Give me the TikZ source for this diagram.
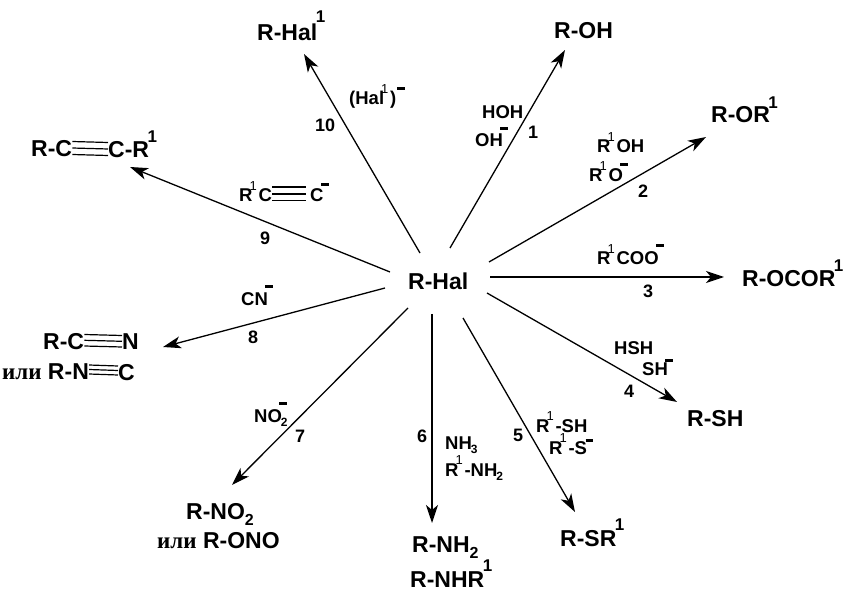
\documentclass[tikz,border=0pt]{standalone}
\usepackage{fontspec}
\setmainfont{Liberation Sans}
\newfontfamily\serifcyr{Liberation Serif}
\usetikzlibrary{arrows.meta}

% superscripts, subscripts and the charge bar
\newcommand{\bigone}[1][15.5]{\kern-1.5pt\raisebox{#1pt}[0pt][0pt]{\fontsize{17}{17}\selectfont 1}}
\newcommand{\smallone}{\kern-3pt\rlap{\raisebox{11.5pt}[0pt][0pt]{\normalfont\fontsize{13}{13}\selectfont 1}}\kern 9pt}
\newcommand{\bigsub}{\raisebox{-6pt}[0pt][0pt]{\fontsize{16}{16}\selectfont 2}}
\newcommand{\smallsub}[1]{\kern-1pt\raisebox{-4pt}[0pt][0pt]{\fontsize{12}{12}\selectfont #1}}
\newcommand{\chg}[1]{\kern-2.5pt\raisebox{#1pt}[0pt][0pt]{\rule{7.5pt}{3pt}}}

\begin{document}
\begin{tikzpicture}[x=1pt,y=-1pt,
    prod/.style={anchor=base west,inner sep=0pt,font=\fontsize{23}{23}\selectfont\bfseries},
    reag/.style={anchor=base west,inner sep=0pt,font=\fontsize{18.5}{18.5}\selectfont\bfseries},
    num/.style={anchor=base west,inner sep=0pt,font=\fontsize{18}{18}\selectfont\bfseries},
    rxn/.style={-{Stealth[length=18pt,width=12pt,inset=5pt]},line width=1.3pt},
    bond/.style={line width=1.2pt}]
  \useasboundingbox (0,0) rectangle (843,593);
  % Centre
  \node[prod] (hal) at (408,290) {R-Hal};
  % Products
  \node[prod] (oh) at (554,39) {R-OH};
  \node[prod] (or) at (711,123) {R-OR\bigone[14]};
  \node[prod] (ocor) at (742,287) {R-OCOR\bigone};
  \node[prod] (sh) at (687,426) {R-SH};
  \node[prod] (sr) at (560,546) {R-SR\bigone};
  \node[prod] (nh) at (412,552) {R-NH\bigsub};
  \node[prod] (nhr) at (410,587) {R-NHR\bigone};
  \node[prod] (no) at (186,519) {R-NO\bigsub};
  \node[prod] (ono) at (157,548) {{\serifcyr или} R-ONO};
  \node[prod] (rc) at (43,349) {R-C};
  \node[prod] (rcn) at (122,350) {N};
  \node[prod] (rn) at (2,380) {{\serifcyr или} R-N};
  \node[prod] (rnc) at (118,381) {C};
  \node[prod] (aa) at (31,157) {R-C};
  \node[prod] (ab) at (108,158) {C-R\bigone};
  \node[prod] (hh) at (257,41) {R-Hal\bigone[18]};
  % Triple bonds
  \foreach \s in {2.5,9,15.5} {
    \draw[bond] ([yshift=\s pt]aa.base east) -- ([yshift=\s pt]ab.base west);
  }
  \foreach \s in {3,8.7,14.5} {
    \draw[bond] ([yshift=\s pt]rc.base east) -- ([yshift=\s pt]rcn.base west);
  }
  \foreach \s in {6,10.5,15} {
    \draw[bond] ([yshift=\s pt]rn.base east) -- ([yshift=\s pt]rnc.base west);
  }
  % Reagents
  \node[reag] (r1a) at (482,119) {HOH};
  \node[reag] (r1b) at (475,147) {OH\chg{17}};
  \node[reag] (r2a) at (597,153) {R\smallone OH};
  \node[reag] (r2b) at (589,182) {R\smallone O\chg{16}};
  \node[reag] (r3) at (597,265) {R\smallone COO\chg{18}};
  \node[reag] (r4a) at (614,355) {HSH};
  \node[reag] (r4b) at (642,376) {SH\chg{14.5}};
  \node[reag] (r5a) at (536,432) {R\smallone-SH};
  \node[reag] (r5b) at (549,454) {R\smallone-S\kern1pt\chg{12.5}};
  \node[reag] (r6a) at (445,449) {NH\smallsub{3}};
  \node[reag] (r6b) at (445,476) {R\smallone-NH\smallsub{2}};
  \node[reag] (r7) at (254,422) {NO\smallsub{2}\kern-6pt\chg{17}};
  \node[reag] (r8) at (241,306) {CN\chg{18}};
  \node[reag] (r9a) at (239,202) {R\smallone C};
  \node[reag] (r9b) at (310,202) {C\chg{15.5}};
  \foreach \s in {1.5,8,15} {
    \draw[bond] ([yshift=\s pt]r9a.base east) -- ([xshift=-4pt,yshift=\s pt]r9b.base west);
  }
  \node[reag] (r10) at (349,105) {(Hal\smallone)\kern3.5pt\chg{15}};
  % Reaction numbers
  \node[num] (n1) at (528,139) {1};
  \node[num] (n2) at (638,198) {2};
  \node[num] (n3) at (643,298) {3};
  \node[num] (n4) at (624,397) {4};
  \node[num] (n5) at (513,441) {5};
  \node[num] (n6) at (417,442) {6};
  \node[num] (n7) at (295,442) {7};
  \node[num] (n8) at (248,344) {8};
  \node[num] (n9) at (260,245) {9};
  \node[num] (n10) at (315,132) {10};
  % Arrows
  \coordinate (a1) at (450,248);  \coordinate (b1) at (565,50);
  \coordinate (a2) at (489,262);  \coordinate (b2) at (706,137);
  \coordinate (a3) at (490,277);  \coordinate (b3) at (724,277);
  \coordinate (a4) at (487,293);  \coordinate (b4) at (677,402);
  \coordinate (a5) at (463,318);  \coordinate (b5) at (575,512);
  \coordinate (a6) at (432,314);  \coordinate (b6) at (432,523);
  \coordinate (a7) at (408,308);  \coordinate (b7) at (232,485);
  \coordinate (a8) at (385,288);  \coordinate (b8) at (163,347);
  \coordinate (a9) at (390,272);  \coordinate (b9) at (130,167);
  \coordinate (a10) at (420,253); \coordinate (b10) at (304,54);
  \foreach \i in {1,...,10} {
    \draw[rxn] (a\i) -- (b\i);
  }
\end{tikzpicture}
\end{document}
